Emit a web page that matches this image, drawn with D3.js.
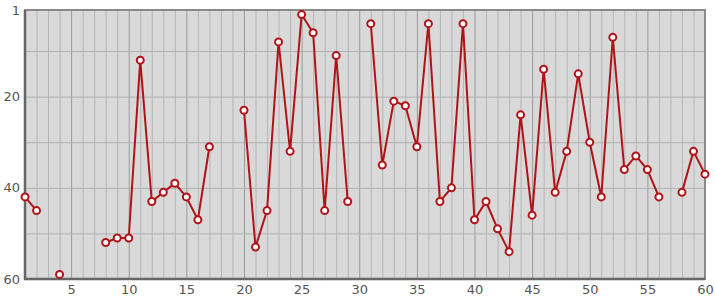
<!DOCTYPE html>
<html>
<head>
<meta charset="utf-8">
<script src="https://cdn.jsdelivr.net/npm/d3@7"></script>
<style>
  body { margin: 0; background: #fff; }
  .tick text { font-family: "DejaVu Sans", sans-serif; font-size: 13px; fill: #555; }
</style>
</head>
<body>
<script>
// x positions 1..60, null = no value
var xValues = d3.range(1, 61);
var yValues = [
  42, 45, null, 59, null, null, null, 52, 51, 51,
  12, 43, 41, 39, 42, 47, 31, null, null, 23,
  53, 45, 8, 32, 2, 6, 45, 11, 43, null,
  4, 35, 21, 22, 31, 4, 43, 40, 4, 47,
  43, 49, 54, 24, 46, 14, 41, 32, 15, 30,
  42, 7, 36, 33, 36, 42, null, 41, 32, 37
];
var xTicks = [5, 10, 15, 20, 25, 30, 35, 40, 45, 50, 55, 60];
var yTicks = [1, 20, 40, 60];
var yGrid = [10, 20, 30, 40, 50];

var data = xValues.map(function (x, i) { return { x: x, y: yValues[i] }; });

var margin = { top: 10, right: 10, bottom: 21, left: 25 },
  width = 715 - margin.left - margin.right,
  height = 300 - margin.top - margin.bottom;

var xScale = d3.scaleLinear().domain([1, 60]).range([0, width]);
var yScale = d3.scaleLinear().domain([1, 60]).range([0, height]);

var svg = d3.select("body").append("svg")
  .attr("width", 715)
  .attr("height", 300)
  .append("g")
  .attr("transform", "translate(" + margin.left + "," + margin.top + ")");

svg.append("rect")
  .attr("width", width)
  .attr("height", height)
  .attr("fill", "#d9d9d9");

// minor vertical grid, one per unit
svg.append("g")
  .attr("class", "x grid")
  .attr("transform", "translate(0," + height + ")")
  .call(d3.axisBottom(xScale).tickValues(d3.range(2, 60)).tickSize(-height).tickFormat(""))
  .call(function (g) {
    g.select(".domain").remove();
    g.selectAll(".tick line").attr("stroke", function (d) { return d % 5 === 0 ? "#9a9a9a" : "#b5b5b5"; })
      .attr("stroke-width", 1);
  });

svg.append("g")
  .attr("class", "y grid")
  .call(d3.axisLeft(yScale).tickValues(yGrid).tickSize(-width).tickFormat(""))
  .call(function (g) {
    g.select(".domain").remove();
    g.selectAll(".tick line").attr("stroke", "#b0b0b0").attr("stroke-width", 1);
  });

// frame
svg.append("rect")
  .attr("width", width)
  .attr("height", height)
  .attr("fill", "none")
  .attr("stroke", "#8a8a8a")
  .attr("stroke-width", 2);
svg.append("path")
  .attr("d", "M0,0V" + height + "H" + width)
  .attr("fill", "none")
  .attr("stroke", "#666")
  .attr("stroke-width", 2.5);

svg.append("g")
  .attr("class", "x axis")
  .attr("transform", "translate(0," + height + ")")
  .call(d3.axisBottom(xScale).tickValues(xTicks).tickSize(0).tickPadding(6))
  .call(function (g) { g.select(".domain").remove(); });

svg.append("g")
  .attr("class", "y axis")
  .call(d3.axisLeft(yScale).tickValues(yTicks).tickSize(0).tickPadding(5))
  .call(function (g) { g.select(".domain").remove(); });

var line = d3.line()
  .defined(function (d) { return d.y !== null; })
  .x(function (d) { return xScale(d.x); })
  .y(function (d) { return yScale(d.y); });

svg.append("path")
  .datum(data)
  .attr("class", "line")
  .attr("d", line)
  .attr("fill", "none")
  .attr("stroke", "#b01418")
  .attr("stroke-width", 2);

svg.selectAll(".dot")
  .data(data.filter(function (d) { return d.y !== null; }))
  .enter().append("circle")
  .attr("class", "dot")
  .attr("cx", function (d) { return xScale(d.x); })
  .attr("cy", function (d) { return yScale(d.y); })
  .attr("r", 3.5)
  .attr("fill", "#fff")
  .attr("stroke", "#b01418")
  .attr("stroke-width", 2);
</script>
</body>
</html>
